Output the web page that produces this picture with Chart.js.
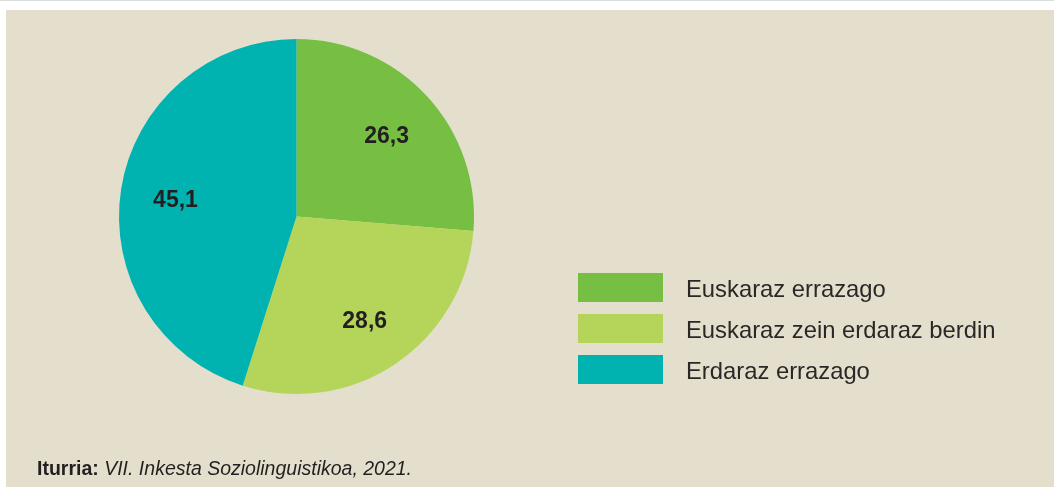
<!DOCTYPE html>
<html>
<head>
<meta charset="utf-8">
<script src="https://cdn.jsdelivr.net/npm/chart.js@4.4.1/dist/chart.umd.min.js"></script>
<style>
    html, body { margin: 0; padding: 0; background: #fff; }
    body { width: 1054px; height: 487px; position: relative; overflow: hidden; font-family: "Liberation Sans", Arial, sans-serif; }
    .topline { position: absolute; left: 0; top: 0; width: 1054px; height: 1px; background: #d9dedc; }
    .panel { position: absolute; left: 6px; top: 10px; width: 1048px; height: 477px; background: #e4dfcc; }
    #chart { position: absolute; left: 0; top: 10px; }
    .source { position: absolute; left: 37px; top: 457px; font-size: 19.5px; color: #231f20; white-space: nowrap; }
    .source b { font-weight: bold; }
    .source i { font-style: italic; }
</style>
</head>
<body>
<div class="topline"></div>
<div class="panel"></div>
<canvas id="chart" width="1054" height="477"></canvas>
<div class="source"><b>Iturria:</b> <i>VII. Inkesta Soziolinguistikoa, 2021.</i></div>
<script>
const categories = ['Euskaraz errazago', 'Euskaraz zein erdaraz berdin', 'Erdaraz errazago'];
const shares = [26.3, 28.6, 45.1];
const sliceColors = ['#76bf43', '#b5d55a', '#00b2b0'];

const formatValue = (v) => v.toFixed(1).replace('.', ',');

// value labels inside the slices
const sliceLabels = {
    id: 'sliceLabels',
    afterDatasetsDraw(chart) {
        const ctx = chart.ctx;
        const meta = chart.getDatasetMeta(0);
        ctx.save();
        ctx.font = 'bold 23px "Liberation Sans", Arial, sans-serif';
        ctx.fillStyle = '#231f20';
        ctx.textAlign = 'center';
        ctx.textBaseline = 'middle';
        meta.data.forEach((arc, i) => {
            const mid = (arc.startAngle + arc.endAngle) / 2;
            const r = arc.outerRadius * 0.69;
            ctx.fillText(formatValue(shares[i]), arc.x + Math.cos(mid) * r, arc.y + Math.sin(mid) * r + 3);
        });
        ctx.restore();
    },
};

// legend on the right, boxes and text
const sideLegend = {
    id: 'sideLegend',
    afterDraw(chart) {
        const ctx = chart.ctx;
        const left = 578;
        const top = 263;
        const step = 41;
        ctx.save();
        ctx.font = '23.8px "Liberation Sans", Arial, sans-serif';
        ctx.textBaseline = 'middle';
        categories.forEach((name, i) => {
            const y = top + i * step;
            ctx.fillStyle = sliceColors[i];
            ctx.fillRect(left, y, 85, 29);
            ctx.fillStyle = '#2b2727';
            ctx.fillText(name, 686, y + 17);
        });
        ctx.restore();
    },
};

new Chart(document.getElementById('chart'), {
    type: 'pie',
    data: {
        labels: categories,
        datasets: [{
            data: shares,
            backgroundColor: sliceColors,
            borderWidth: 0,
        }],
    },
    options: {
        responsive: false,
        animation: false,
        layout: {
            padding: { left: 119, top: 29, right: 580, bottom: 93 },
        },
        plugins: {
            legend: { display: false },
            tooltip: { enabled: false },
        },
    },
    plugins: [sliceLabels, sideLegend],
});
</script>
</body>
</html>
